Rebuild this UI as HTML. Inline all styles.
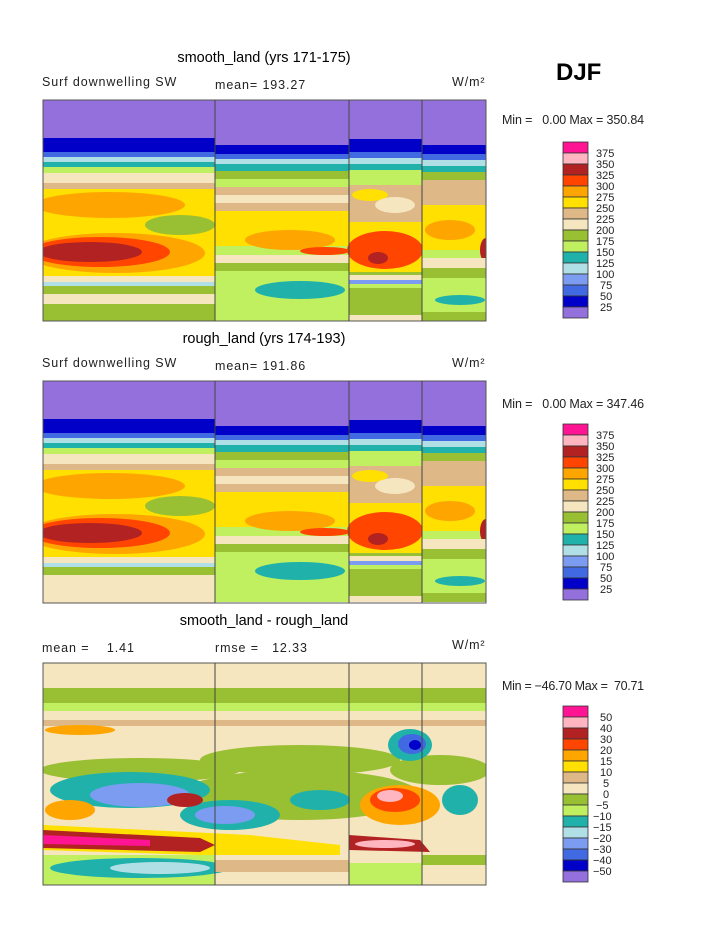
<!DOCTYPE html>
<html><head><meta charset="utf-8"><style>
body{margin:0;background:#fff;}
svg{display:block;font-family:"Liberation Sans",sans-serif;}
.t{font-size:14.5px;}
.l{font-size:12.5px;fill:#222;letter-spacing:0.9px;white-space:pre;}
.c{font-size:11px;fill:#222;}
</style></head><body>
<svg width="723" height="935" viewBox="0 0 723 935" xmlns="http://www.w3.org/2000/svg" xml:space="preserve">
<defs>
<clipPath id="c1"><rect x="43" y="100" width="443" height="221"/></clipPath>
<clipPath id="c2"><rect x="43" y="381" width="443" height="222"/></clipPath>
<clipPath id="c3"><rect x="43" y="663" width="443" height="222"/></clipPath>
<g id="p1">
 <rect x="43" y="100" width="172" height="221" fill="#99bf33"/>
 <rect x="43" y="100" width="172" height="40" fill="#9370db"/>
 <rect x="43" y="138" width="172" height="14" fill="#0000c8"/>
 <rect x="43" y="152" width="172" height="5" fill="#4169e1"/>
 <rect x="43" y="157" width="172" height="5" fill="#b0e0e6"/>
 <rect x="43" y="162" width="172" height="5" fill="#20b2aa"/>
 <rect x="43" y="167" width="172" height="6" fill="#c0f060"/>
 <rect x="43" y="173" width="172" height="10" fill="#f5e6c0"/>
 <rect x="43" y="183" width="172" height="6" fill="#deb887"/>
 <rect x="43" y="189" width="172" height="90" fill="#ffe000"/>
 <ellipse cx="110" cy="205" rx="75" ry="13" fill="#ffa500"/>
 <ellipse cx="180" cy="225" rx="35" ry="10" fill="#99bf33"/>
 <ellipse cx="115" cy="253" rx="90" ry="20" fill="#ffa500"/>
 <ellipse cx="100" cy="252" rx="70" ry="15" fill="#ff4500"/>
 <ellipse cx="90" cy="252" rx="52" ry="10" fill="#b22222"/>
 <rect x="43" y="276" width="172" height="6" fill="#f5e6c0"/>
 <rect x="43" y="282" width="172" height="4" fill="#b0e0e6"/>
 <rect x="43" y="286" width="172" height="8" fill="#99bf33"/>
 <rect x="43" y="294" width="172" height="10" fill="#f5e6c0"/>
 <rect x="215" y="100" width="134" height="221" fill="#c0f060"/>
 <rect x="215" y="100" width="134" height="45" fill="#9370db"/>
 <rect x="215" y="145" width="134" height="9" fill="#0000c8"/>
 <rect x="215" y="154" width="134" height="5" fill="#4169e1"/>
 <rect x="215" y="159" width="134" height="5" fill="#b0e0e6"/>
 <rect x="215" y="164" width="134" height="7" fill="#20b2aa"/>
 <rect x="215" y="171" width="134" height="8" fill="#99bf33"/>
 <rect x="215" y="179" width="134" height="8" fill="#c0f060"/>
 <rect x="215" y="187" width="134" height="8" fill="#deb887"/>
 <rect x="215" y="195" width="134" height="8" fill="#f5e6c0"/>
 <rect x="215" y="203" width="134" height="8" fill="#deb887"/>
 <rect x="215" y="211" width="134" height="35" fill="#ffe000"/>
 <ellipse cx="290" cy="240" rx="45" ry="10" fill="#ffa500"/>
 <ellipse cx="325" cy="251" rx="25" ry="4" fill="#ff4500"/>
 <rect x="215" y="255" width="134" height="8" fill="#f5e6c0"/>
 <rect x="215" y="263" width="134" height="8" fill="#99bf33"/>
 <ellipse cx="300" cy="290" rx="45" ry="9" fill="#20b2aa"/>
 <rect x="349" y="100" width="73" height="221" fill="#99bf33"/>
 <rect x="349" y="100" width="73" height="39" fill="#9370db"/>
 <rect x="349" y="139" width="73" height="13" fill="#0000c8"/>
 <rect x="349" y="152" width="73" height="6" fill="#4169e1"/>
 <rect x="349" y="158" width="73" height="6" fill="#b0e0e6"/>
 <rect x="349" y="164" width="73" height="6" fill="#20b2aa"/>
 <rect x="349" y="170" width="73" height="15" fill="#c0f060"/>
 <rect x="349" y="185" width="73" height="40" fill="#deb887"/>
 <ellipse cx="370" cy="195" rx="18" ry="6" fill="#ffe000"/>
 <ellipse cx="395" cy="205" rx="20" ry="8" fill="#f5e6c0"/>
 <rect x="349" y="222" width="73" height="50" fill="#ffe000"/>
 <ellipse cx="385" cy="250" rx="38" ry="19" fill="#ff4500"/>
 <ellipse cx="378" cy="258" rx="10" ry="6" fill="#b22222"/>
 <rect x="349" y="275" width="73" height="5" fill="#f5e6c0"/>
 <rect x="349" y="280" width="73" height="4" fill="#7b9cf0"/>
 <rect x="349" y="284" width="73" height="4" fill="#c0f060"/>
 <rect x="349" y="315" width="73" height="6" fill="#f5e6c0"/>
 <rect x="422" y="100" width="64" height="221" fill="#c0f060"/>
 <rect x="422" y="100" width="64" height="45" fill="#9370db"/>
 <rect x="422" y="145" width="64" height="9" fill="#0000c8"/>
 <rect x="422" y="154" width="64" height="6" fill="#4169e1"/>
 <rect x="422" y="160" width="64" height="6" fill="#b0e0e6"/>
 <rect x="422" y="166" width="64" height="6" fill="#20b2aa"/>
 <rect x="422" y="172" width="64" height="8" fill="#99bf33"/>
 <rect x="422" y="180" width="64" height="25" fill="#deb887"/>
 <rect x="422" y="205" width="64" height="45" fill="#ffe000"/>
 <ellipse cx="450" cy="230" rx="25" ry="10" fill="#ffa500"/>
 <ellipse cx="486" cy="250" rx="6" ry="12" fill="#b22222"/>
 <rect x="422" y="258" width="64" height="10" fill="#f5e6c0"/>
 <rect x="422" y="268" width="64" height="10" fill="#99bf33"/>
 <ellipse cx="460" cy="300" rx="25" ry="5" fill="#20b2aa"/>
 <rect x="422" y="312" width="64" height="9" fill="#99bf33"/>
</g>
</defs>

<text x="264" y="62" class="t" text-anchor="middle">smooth_land (yrs 171-175)</text>
<text x="556" y="80" font-size="24" font-weight="bold">DJF</text>
<text x="42" y="86" class="l">Surf downwelling SW</text>
<text x="215" y="89" class="l">mean= 193.27</text>
<text x="452" y="86" class="l">W/m²</text>
<text x="502" y="124" class="l" textLength="143">Min =   0.00 Max = 350.84</text>
<g clip-path="url(#c1)"><use href="#p1"/></g>
<rect x="43" y="100" width="443" height="221" fill="none" stroke="#555"/>
<g stroke="#444"><line x1="215" y1="100" x2="215" y2="321"/><line x1="349" y1="100" x2="349" y2="321"/><line x1="422" y1="100" x2="422" y2="321"/></g>

<text x="264" y="343" class="t" text-anchor="middle">rough_land (yrs 174-193)</text>
<text x="42" y="367" class="l">Surf downwelling SW</text>
<text x="215" y="370" class="l">mean= 191.86</text>
<text x="452" y="367" class="l">W/m²</text>
<text x="502" y="408" class="l" textLength="143">Min =   0.00 Max = 347.46</text>
<g clip-path="url(#c2)"><g transform="translate(0,281)"><use href="#p1"/>
 <rect x="43" y="294" width="172" height="28" fill="#f5e6c0"/>
 <rect x="43" y="286" width="172" height="6" fill="#99bf33"/>
</g></g>
<rect x="43" y="381" width="443" height="222" fill="none" stroke="#555"/>
<g stroke="#444"><line x1="215" y1="381" x2="215" y2="603"/><line x1="349" y1="381" x2="349" y2="603"/><line x1="422" y1="381" x2="422" y2="603"/></g>

<text x="264" y="625" class="t" text-anchor="middle">smooth_land - rough_land</text>
<text x="42" y="652" class="l">mean =    1.41</text>
<text x="215" y="652" class="l">rmse =   12.33</text>
<text x="452" y="649" class="l">W/m²</text>
<text x="502" y="690" class="l" textLength="143">Min = −46.70 Max =  70.71</text>
<g clip-path="url(#c3)">
 <rect x="43" y="663" width="443" height="222" fill="#f5e6c0"/>
 <rect x="43" y="688" width="443" height="22" fill="#99bf33"/>
 <rect x="43" y="703" width="443" height="8" fill="#c0f060"/>
 <rect x="43" y="720" width="443" height="6" fill="#deb887"/>
 <ellipse cx="80" cy="730" rx="35" ry="5" fill="#ffa500"/>
 <ellipse cx="140" cy="770" rx="100" ry="12" fill="#99bf33"/>
 <ellipse cx="300" cy="760" rx="100" ry="15" fill="#99bf33"/>
 <ellipse cx="440" cy="770" rx="50" ry="15" fill="#99bf33"/>
 <ellipse cx="300" cy="795" rx="120" ry="25" fill="#99bf33"/>
 <ellipse cx="130" cy="790" rx="80" ry="18" fill="#20b2aa"/>
 <ellipse cx="140" cy="795" rx="50" ry="12" fill="#7b9cf0"/>
 <ellipse cx="230" cy="815" rx="50" ry="15" fill="#20b2aa"/>
 <ellipse cx="225" cy="815" rx="30" ry="9" fill="#7b9cf0"/>
 <ellipse cx="320" cy="800" rx="30" ry="10" fill="#20b2aa"/>
 <ellipse cx="70" cy="810" rx="25" ry="10" fill="#ffa500"/>
 <ellipse cx="185" cy="800" rx="18" ry="7" fill="#b22222"/>
 <ellipse cx="400" cy="805" rx="40" ry="20" fill="#ffa500"/>
 <ellipse cx="395" cy="800" rx="25" ry="12" fill="#ff4500"/>
 <ellipse cx="390" cy="796" rx="13" ry="6" fill="#ffb6c1"/>
 <ellipse cx="410" cy="745" rx="22" ry="16" fill="#20b2aa"/>
 <ellipse cx="412" cy="744" rx="14" ry="10" fill="#4169e1"/>
 <ellipse cx="415" cy="745" rx="6" ry="5" fill="#0000c8"/>
 <ellipse cx="460" cy="800" rx="18" ry="15" fill="#20b2aa"/>
 <path d="M43 825 L250 835 L340 845 L340 855 L200 855 L43 850 Z" fill="#ffe000"/>
 <path d="M43 830 L200 838 L215 845 L200 852 L43 848 Z" fill="#b22222"/>
 <path d="M43 835 L150 840 L150 846 L43 844 Z" fill="#ff1493"/>
 <path d="M349 835 L420 840 L430 852 L349 850 Z" fill="#b22222"/>
 <ellipse cx="385" cy="844" rx="30" ry="4" fill="#ffb6c1"/>
 <rect x="43" y="855" width="172" height="30" fill="#c0f060"/>
 <ellipse cx="140" cy="868" rx="90" ry="10" fill="#20b2aa"/>
 <ellipse cx="160" cy="868" rx="50" ry="6" fill="#b0e0e6"/>
 <rect x="215" y="860" width="134" height="12" fill="#deb887"/>
 <rect x="349" y="863" width="73" height="22" fill="#c0f060"/>
 <rect x="422" y="855" width="64" height="10" fill="#99bf33"/>
</g>
<rect x="43" y="663" width="443" height="222" fill="none" stroke="#555"/>
<g stroke="#444"><line x1="215" y1="663" x2="215" y2="885"/><line x1="349" y1="663" x2="349" y2="885"/><line x1="422" y1="663" x2="422" y2="885"/></g>

<g id="cb1" stroke="#333" stroke-width="0.8">
 <rect x="563" y="142" width="25" height="11" fill="#ff1493"/>
 <rect x="563" y="153" width="25" height="11" fill="#ffb6c1"/>
 <rect x="563" y="164" width="25" height="11" fill="#b22222"/>
 <rect x="563" y="175" width="25" height="11" fill="#ff4500"/>
 <rect x="563" y="186" width="25" height="11" fill="#ffa500"/>
 <rect x="563" y="197" width="25" height="11" fill="#ffe000"/>
 <rect x="563" y="208" width="25" height="11" fill="#deb887"/>
 <rect x="563" y="219" width="25" height="11" fill="#f5e6c0"/>
 <rect x="563" y="230" width="25" height="11" fill="#99bf33"/>
 <rect x="563" y="241" width="25" height="11" fill="#c0f060"/>
 <rect x="563" y="252" width="25" height="11" fill="#20b2aa"/>
 <rect x="563" y="263" width="25" height="11" fill="#b0e0e6"/>
 <rect x="563" y="274" width="25" height="11" fill="#7b9cf0"/>
 <rect x="563" y="285" width="25" height="11" fill="#4169e1"/>
 <rect x="563" y="296" width="25" height="11" fill="#0000c8"/>
 <rect x="563" y="307" width="25" height="11" fill="#9370db"/>
</g>
<use href="#cb1" transform="translate(0,282)"/>
<use href="#cb1" transform="translate(0,564)"/>
<g class="c">
<text x="596" y="157">375</text><text x="596" y="168">350</text><text x="596" y="179">325</text><text x="596" y="190">300</text><text x="596" y="201">275</text><text x="596" y="212">250</text><text x="596" y="223">225</text><text x="596" y="234">200</text><text x="596" y="245">175</text><text x="596" y="256">150</text><text x="596" y="267">125</text><text x="596" y="278">100</text><text x="600" y="289">75</text><text x="600" y="300">50</text><text x="600" y="311">25</text>
</g>
<g class="c" transform="translate(0,282)">
<text x="596" y="157">375</text><text x="596" y="168">350</text><text x="596" y="179">325</text><text x="596" y="190">300</text><text x="596" y="201">275</text><text x="596" y="212">250</text><text x="596" y="223">225</text><text x="596" y="234">200</text><text x="596" y="245">175</text><text x="596" y="256">150</text><text x="596" y="267">125</text><text x="596" y="278">100</text><text x="600" y="289">75</text><text x="600" y="300">50</text><text x="600" y="311">25</text>
</g>
<g class="c" transform="translate(0,564)">
<text x="600" y="157">50</text><text x="600" y="168">40</text><text x="600" y="179">30</text><text x="600" y="190">20</text><text x="600" y="201">15</text><text x="600" y="212">10</text><text x="603" y="223">5</text><text x="603" y="234">0</text><text x="596" y="245">−5</text><text x="593" y="256">−10</text><text x="593" y="267">−15</text><text x="593" y="278">−20</text><text x="593" y="289">−30</text><text x="593" y="300">−40</text><text x="593" y="311">−50</text>
</g>
</svg>
</body></html>
